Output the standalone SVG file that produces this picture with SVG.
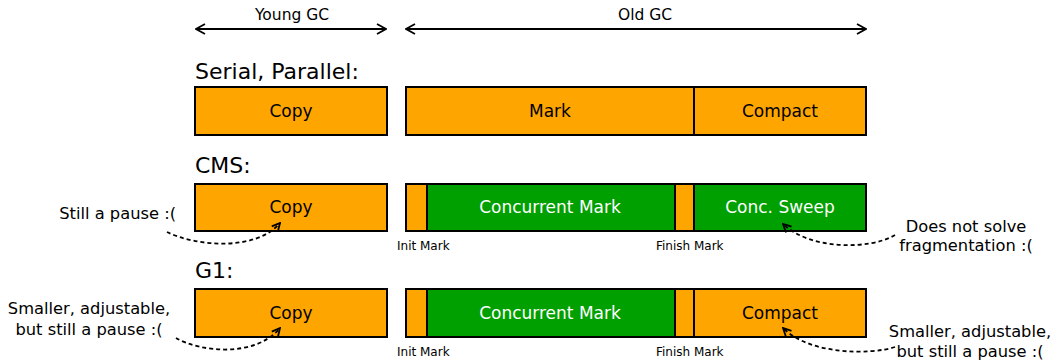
<svg xmlns="http://www.w3.org/2000/svg" width="1055" height="360" viewBox="0 0 1055 360">
  <style>
    text { font-family: "DejaVu Sans", "Liberation Sans", sans-serif; fill: #000; }
    .hdr { font-size: 15.5px; text-anchor: middle; }
    .title { font-size: 22px; }
    .lbl { font-size: 17px; text-anchor: middle; }
    .lblw { font-size: 17px; text-anchor: middle; fill: #fff; }
    .small { font-size: 12px; }
    .note { font-size: 16.3px; }
    .org { fill: #ffa500; stroke: #000; stroke-width: 2; }
    .grn { fill: #00a000; stroke: #000; stroke-width: 2; }
    .span { stroke: #000; stroke-width: 2; fill: none; }
    .dash { stroke: #000; stroke-width: 1.8; fill: none; stroke-dasharray: 4 3; }
  </style>
  <defs>
    <marker id="chev" viewBox="0 0 12 12" refX="11" refY="6" markerWidth="12" markerHeight="12" markerUnits="userSpaceOnUse" orient="auto-start-reverse">
      <polyline points="2,1 11,6 2,11" fill="none" stroke="#000" stroke-width="1.8"/>
    </marker>
    <marker id="tip" viewBox="0 0 10 10" refX="9" refY="5" markerWidth="10" markerHeight="10" markerUnits="userSpaceOnUse" orient="auto">
      <path d="M1,1 L9,5 L1,9" fill="none" stroke="#000" stroke-width="1.8"/>
    </marker>
  </defs>

  <!-- phase spans -->
  <g id="spans">
    <line class="span" x1="196" y1="29" x2="386" y2="29" marker-start="url(#chev)" marker-end="url(#chev)"/>
    <text class="hdr" x="292" y="20">Young GC</text>
    <line class="span" x1="406" y1="29" x2="866" y2="29" marker-start="url(#chev)" marker-end="url(#chev)"/>
    <text class="hdr" x="645" y="20">Old GC</text>
  </g>

  <!-- Serial / Parallel -->
  <g id="serial">
    <text class="title" x="195" y="79">Serial, Parallel:</text>
    <g id="serial-copy"><rect class="org" x="195" y="87" width="192" height="48"/><text class="lbl" x="291" y="117">Copy</text></g>
    <g id="serial-mark"><rect class="org" x="406" y="87" width="288" height="48"/><text class="lbl" x="550" y="117">Mark</text></g>
    <g id="serial-compact"><rect class="org" x="694" y="87" width="172" height="48"/><text class="lbl" x="780" y="117">Compact</text></g>
  </g>

  <!-- CMS -->
  <g id="cms">
    <text class="title" x="195" y="173">CMS:</text>
    <g id="cms-copy"><rect class="org" x="195" y="184" width="192" height="47"/><text class="lbl" x="291" y="213">Copy</text></g>
    <g id="cms-init"><rect class="org" x="406" y="184" width="21" height="47"/></g>
    <g id="cms-conc"><rect class="grn" x="427" y="184" width="248" height="47"/><text class="lblw" x="550" y="213">Concurrent Mark</text></g>
    <g id="cms-finish"><rect class="org" x="675" y="184" width="19" height="47"/></g>
    <g id="cms-sweep"><rect class="grn" x="694" y="184" width="172" height="47"/><text class="lblw" x="780" y="213">Conc. Sweep</text></g>
    <text class="small" x="397" y="250">Init Mark</text>
    <text class="small" x="656" y="250">Finish Mark</text>
  </g>

  <!-- G1 -->
  <g id="g1">
    <text class="title" x="195" y="278">G1:</text>
    <g id="g1-copy"><rect class="org" x="195" y="289" width="192" height="48"/><text class="lbl" x="291" y="319">Copy</text></g>
    <g id="g1-init"><rect class="org" x="406" y="289" width="21" height="48"/></g>
    <g id="g1-conc"><rect class="grn" x="427" y="289" width="248" height="48"/><text class="lblw" x="550" y="319">Concurrent Mark</text></g>
    <g id="g1-finish"><rect class="org" x="675" y="289" width="19" height="48"/></g>
    <g id="g1-compact"><rect class="org" x="694" y="289" width="172" height="48"/><text class="lbl" x="780" y="319">Compact</text></g>
    <text class="small" x="397" y="356">Init Mark</text>
    <text class="small" x="656" y="356">Finish Mark</text>
  </g>

  <!-- remarks -->
  <g id="notes">
    <text class="note" x="176" y="219" text-anchor="end">Still a pause :(</text>
    <text class="note" x="966" y="232" text-anchor="middle">Does not solve</text>
    <text class="note" x="966" y="251" text-anchor="middle">fragmentation :(</text>
    <text class="note" x="89" y="314" text-anchor="middle">Smaller, adjustable,</text>
    <text class="note" x="89" y="335" text-anchor="middle">but still a pause :(</text>
    <text class="note" x="970" y="337" text-anchor="middle">Smaller, adjustable,</text>
    <text class="note" x="970" y="357" text-anchor="middle">but still a pause :(</text>
  </g>

  <!-- connectors -->
  <g id="connectors">
    <path class="dash" d="M167,232 C195,246 255,252 280,223" marker-end="url(#tip)"/>
    <path class="dash" d="M895,235 C870,250 810,250 783,224" marker-end="url(#tip)"/>
    <path class="dash" d="M176,338 C200,352 255,358 280,328" marker-end="url(#tip)"/>
    <path class="dash" d="M895,347 C870,355 810,355 783,328" marker-end="url(#tip)"/>
  </g>
</svg>
